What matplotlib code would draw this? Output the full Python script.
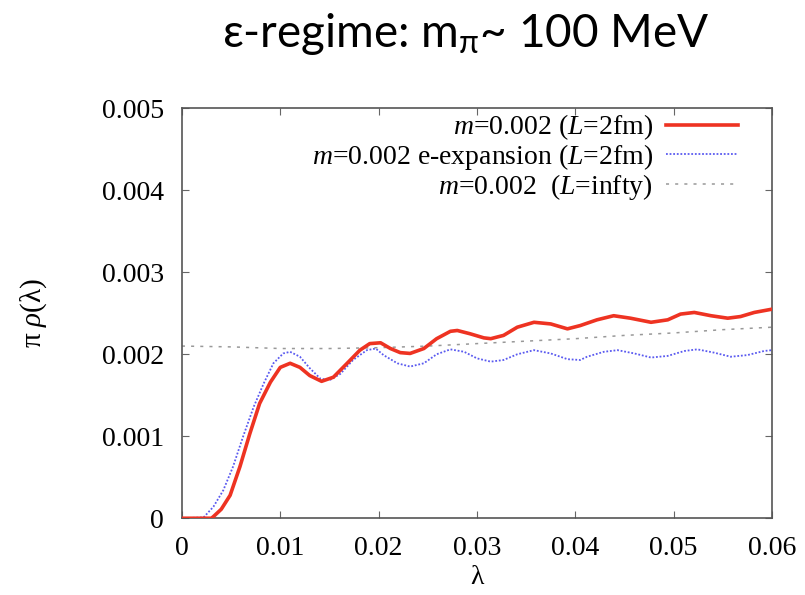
import matplotlib
matplotlib.use("Agg")
import matplotlib.pyplot as plt

plt.rcParams['mathtext.fontset'] = 'custom'
plt.rcParams['mathtext.rm'] = 'Liberation Serif'
plt.rcParams['mathtext.sf'] = 'Lato'
plt.rcParams['mathtext.it'] = 'Liberation Serif:italic'
plt.rcParams['font.family'] = ['Liberation Serif', 'DejaVu Serif']

# --- data ---
red_x = [0.0, 0.003, 0.0032, 0.0040, 0.0049, 0.0059, 0.0069, 0.0079, 0.0090, 0.0100, 0.0110,
         0.0120, 0.0130, 0.0142, 0.0154, 0.0168, 0.0181, 0.0191, 0.0202, 0.0212, 0.0222,
         0.0232, 0.0246, 0.0259, 0.0273, 0.0280, 0.0293, 0.0307, 0.0314, 0.0327, 0.0341,
         0.0358, 0.0375, 0.0392, 0.0405, 0.0422, 0.0439, 0.0456, 0.0477, 0.0494, 0.0507,
         0.0521, 0.0538, 0.0555, 0.0568, 0.0582, 0.0600]
red_y = [0.0, 0.0, 0.00002, 0.00011, 0.00028, 0.00063, 0.00103, 0.00140, 0.00166, 0.00184, 0.00189,
         0.00184, 0.00174, 0.00167, 0.00172, 0.00189, 0.00205, 0.00213, 0.00214, 0.00207, 0.00202,
         0.00201, 0.00207, 0.00219, 0.00228, 0.00229, 0.00225, 0.00220, 0.00219, 0.00223, 0.00233,
         0.00239, 0.00237, 0.00231, 0.00235, 0.00242, 0.00247, 0.00244, 0.00239, 0.00242, 0.00249,
         0.00251, 0.00247, 0.00244, 0.00246, 0.00251, 0.00255]

blue_x = [0.0, 0.0022, 0.0032, 0.0042, 0.0052, 0.0062, 0.0073, 0.0083, 0.0093, 0.0103, 0.0110,
          0.0120, 0.0130, 0.0141, 0.0151, 0.0161, 0.0174, 0.0188, 0.0197, 0.0205, 0.0219,
          0.0232, 0.0246, 0.0259, 0.0273, 0.0287, 0.0300, 0.0314, 0.0327, 0.0341, 0.0358,
          0.0375, 0.0392, 0.0405, 0.0412, 0.0429, 0.0443, 0.0460, 0.0477, 0.0494, 0.0511,
          0.0524, 0.0541, 0.0558, 0.0575, 0.0592, 0.0600]
blue_y = [0.0, 0.00001, 0.00014, 0.00034, 0.00063, 0.00099, 0.00136, 0.00164, 0.00189, 0.00201, 0.00203,
          0.00197, 0.00183, 0.00170, 0.00169, 0.00176, 0.00193, 0.00205, 0.00207, 0.00199, 0.00189,
          0.00185, 0.00189, 0.00200, 0.00206, 0.00203, 0.00195, 0.00191, 0.00193, 0.00200, 0.00205,
          0.00201, 0.00194, 0.00193, 0.00197, 0.00203, 0.00205, 0.00201, 0.00196, 0.00198, 0.00204,
          0.00206, 0.00202, 0.00197, 0.00199, 0.00204, 0.00205]

gray_x = [0.0, 0.005, 0.01, 0.015, 0.02, 0.025, 0.03, 0.035, 0.04, 0.045, 0.05, 0.055, 0.06]
gray_y = [0.00210, 0.00209, 0.00207, 0.00207, 0.00208, 0.00210, 0.00213, 0.00216, 0.00219,
          0.00223, 0.00226, 0.00230, 0.00233]

labels = [r"$m$=0.002 ($L$=2fm)", r"$m$=0.002 e-expansion ($L$=2fm)", r"$m$=0.002  ($L$=infty)"]

xticks = [0, 0.01, 0.02, 0.03, 0.04, 0.05, 0.06]
xtick_labels = ["0", "0.01", "0.02", "0.03", "0.04", "0.05", "0.06"]
yticks = [0, 0.001, 0.002, 0.003, 0.004, 0.005]
ytick_labels = ["0", "0.001", "0.002", "0.003", "0.004", "0.005"]

fig = plt.figure(figsize=(8.05, 5.95), dpi=100)
ax = fig.add_axes([0.226, 0.129, 0.733, 0.689])

ax.plot(red_x, red_y, color='#ee3322', lw=2.6, label=labels[0], zorder=3,
        solid_joinstyle='round')
ax.plot(blue_x, blue_y, color='#5a5af0', lw=1.3, ls=(0, (1, 1)), label=labels[1], zorder=2)
ax.plot(gray_x, gray_y, color='#999999', lw=1.1, ls=(0, (2, 4)), label=labels[2], zorder=1)

ax.set_xlim(0, 0.06)
ax.set_ylim(0, 0.005)
ax.set_xticks(xticks)
ax.set_xticklabels(xtick_labels)
ax.set_yticks(yticks)
ax.set_yticklabels(ytick_labels)
ax.tick_params(direction='in', length=5, width=0.8, color='#666666',
               top=True, right=True, labelsize=20, pad=13)
for s in ax.spines.values():
    s.set_color('#555555')
    s.set_linewidth(1.2)

ax.set_ylabel(r"π $\mathit{ρ}$(λ)", fontsize=21)
ax.yaxis.set_label_coords(-0.225, 0.5)
ax.set_xlabel("λ", fontsize=20)
ax.xaxis.set_label_coords(0.5, -0.115)

leg = ax.legend(loc='upper right', bbox_to_anchor=(0.942, 0.99), markerfirst=False,
                frameon=False, fontsize=20, labelspacing=0.0, handlelength=2.6,
                handletextpad=0.45, borderpad=0, borderaxespad=0)

fig.text(0.578, 0.921, r"ε-regime: $\mathsf{m}_{\mathsf{π}}$~ 100 MeV",
         family=['Lato', 'DejaVu Sans'], fontsize=33, ha='center', va='baseline')

fig.savefig("out.png", dpi=100)
